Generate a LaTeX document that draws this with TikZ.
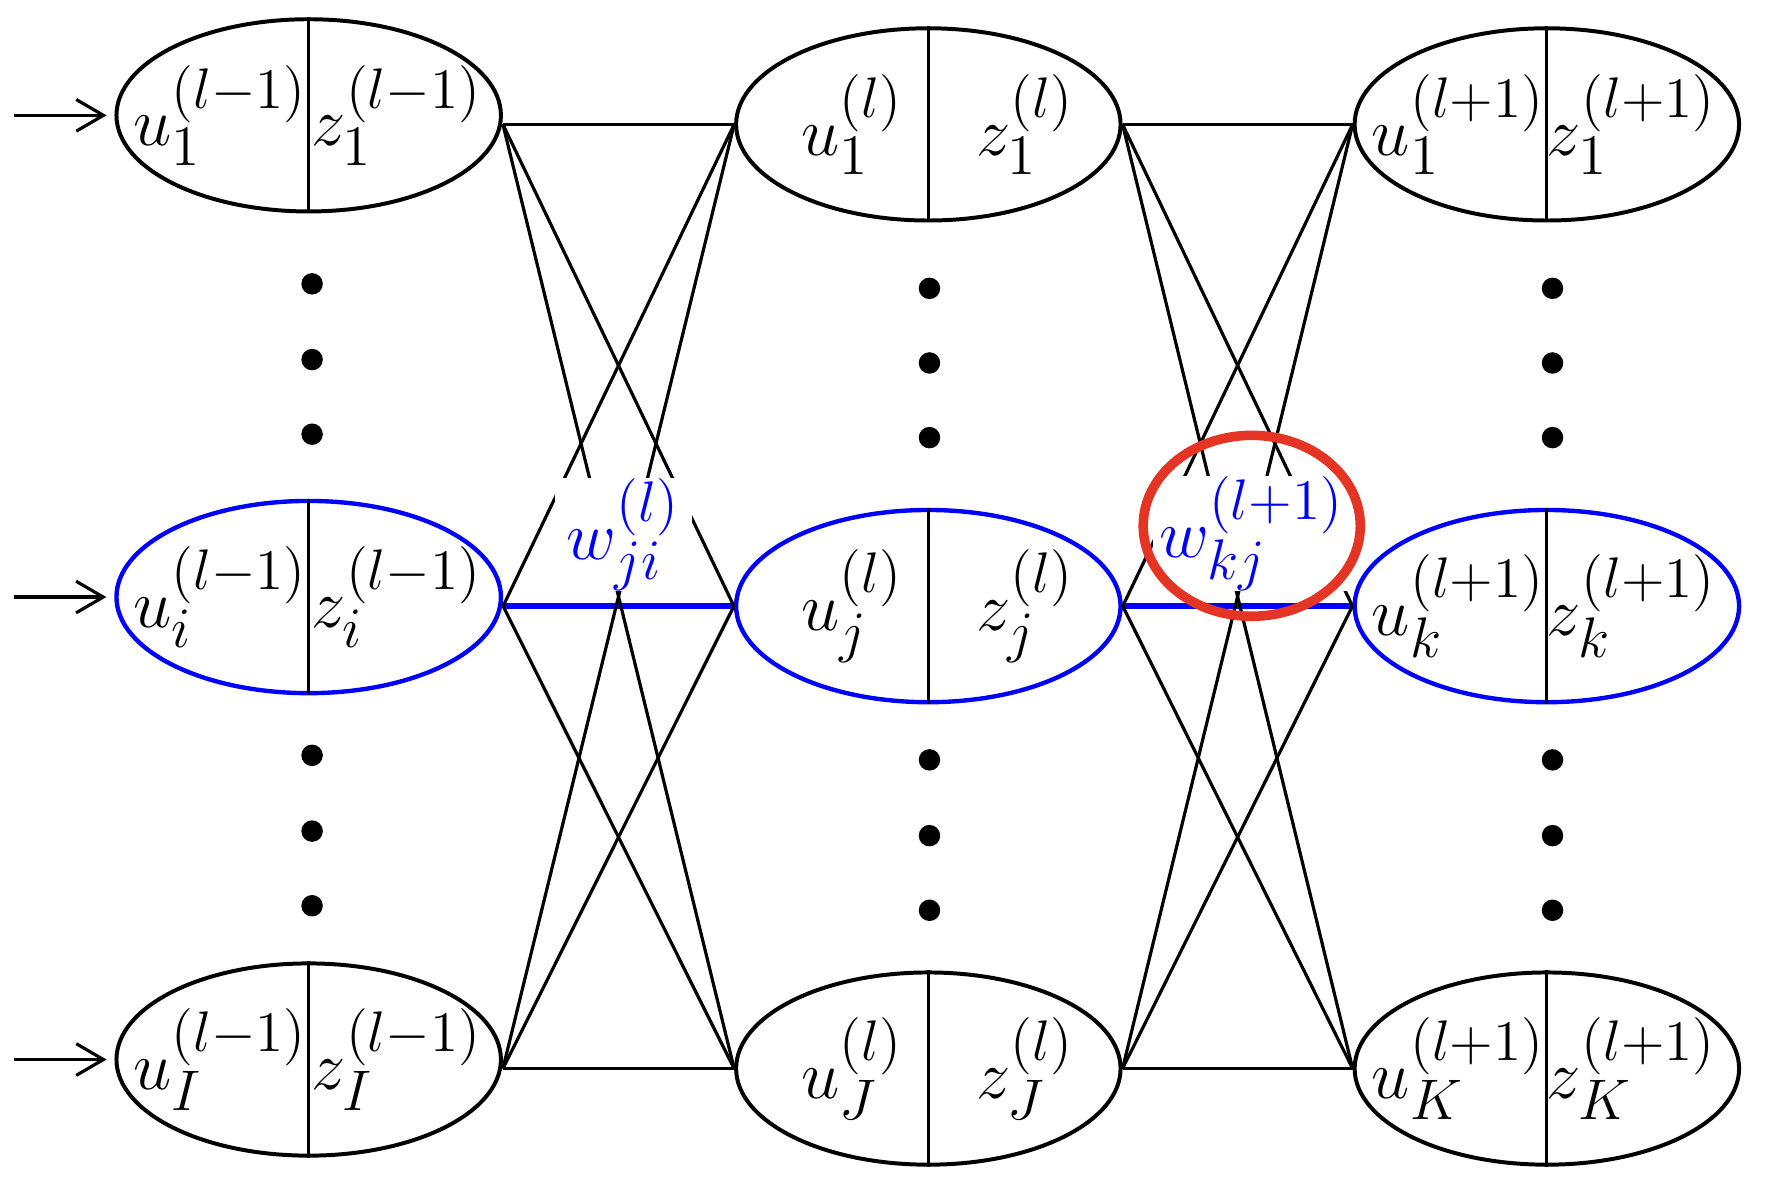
\documentclass[tikz,border=0pt]{standalone}
\usepackage{tikz}
\usetikzlibrary{positioning, arrows.meta, shapes.geometric, calc}
\usepackage{xcolor}
\definecolor{netblue}{RGB}{0,0,255}
\definecolor{markred}{RGB}{228,52,36}

\begin{document}
\begin{tikzpicture}[
			neuron/.style={ellipse, draw=black, line width=1pt,
				minimum width=3.4cm, minimum height=1.7cm, inner sep=0pt},
			active/.style={neuron, draw=netblue, line width=1.1pt},
			half/.style={font=\fontsize{19}{22}\selectfont, inner sep=0pt},
			divider/.style={black, line width=0.8pt},
			link/.style={black, line width=0.8pt},
			hot/.style={netblue, line width=1.4pt},
			weight/.style={font=\fontsize{19}{22}\selectfont, text=netblue, fill=white, inner sep=0pt,
				minimum width=1.21cm, minimum height=1.0cm},
			ring/.style={ellipse, draw=markred, line width=2.4pt, inner sep=0pt,
				minimum width=1.92cm, minimum height=1.60cm},
			input/.style={-{Straight Barb[length=2.4mm, width=2.8mm]}, line width=0.8pt, shorten >=0.07cm}
			]
			\useasboundingbox (0,0) rectangle (15.68,-10.50);
			
			% Layer l-1
			\node[neuron] (i1) at (2.73,-1.02) {};
			\node[active] (ii) at (2.73,-5.28) {};
			\node[neuron] (iI) at (2.73,-9.37) {};
			% Layer l
			\node[neuron] (j1) at (8.21,-1.10) {};
			\node[active] (jj) at (8.21,-5.36) {};
			\node[neuron] (jJ) at (8.21,-9.45) {};
			% Layer l+1
			\node[neuron] (k1) at (13.68,-1.10) {};
			\node[active] (kk) at (13.68,-5.36) {};
			\node[neuron] (kK) at (13.68,-9.45) {};
			
			% Trennlinien u | z
			\draw[divider] (i1.north) -- (i1.south) (ii.north) -- (ii.south) (iI.north) -- (iI.south);
			\draw[divider] (j1.north) -- (j1.south) (jj.north) -- (jj.south) (jJ.north) -- (jJ.south);
			\draw[divider] (k1.north) -- (k1.south) (kk.north) -- (kk.south) (kK.north) -- (kK.south);
			
			% Inhalte
			\node[half] (i1u) at ([xshift=-0.78cm]i1.center) {$u_1^{(l-1)}$};
			\node[half] (i1z) at ([xshift=0.78cm]i1.center) {$z_1^{(l-1)}$};
			\node[half] (iiu) at ([xshift=-0.78cm]ii.center) {$u_i^{(l-1)}$};
			\node[half] (iiz) at ([xshift=0.78cm]ii.center) {$z_i^{(l-1)}$};
			\node[half] (iIu) at ([xshift=-0.78cm]iI.center) {$u_I^{(l-1)}$};
			\node[half] (iIz) at ([xshift=0.78cm]iI.center) {$z_I^{(l-1)}$};
			\node[half] (j1u) at ([xshift=-0.67cm]j1.center) {$u_1^{(l)}$};
			\node[half] (j1z) at ([xshift=0.86cm]j1.center) {$z_1^{(l)}$};
			\node[half] (jju) at ([xshift=-0.67cm]jj.center) {$u_j^{(l)}$};
			\node[half] (jjz) at ([xshift=0.86cm]jj.center) {$z_j^{(l)}$};
			\node[half] (jJu) at ([xshift=-0.67cm]jJ.center) {$u_J^{(l)}$};
			\node[half] (jJz) at ([xshift=0.86cm]jJ.center) {$z_J^{(l)}$};
			\node[half] (k1u) at ([xshift=-0.78cm]k1.center) {$u_1^{(l+1)}$};
			\node[half] (k1z) at ([xshift=0.75cm]k1.center) {$z_1^{(l+1)}$};
			\node[half] (kku) at ([xshift=-0.78cm]kk.center) {$u_k^{(l+1)}$};
			\node[half] (kkz) at ([xshift=0.75cm]kk.center) {$z_k^{(l+1)}$};
			\node[half] (kKu) at ([xshift=-0.78cm]kK.center) {$u_K^{(l+1)}$};
			\node[half] (kKz) at ([xshift=0.75cm]kK.center) {$z_K^{(l+1)}$};
			
			% Punkte
			\fill (2.76,-2.51) circle (0.095) (2.76,-3.18) circle (0.095) (2.76,-3.84) circle (0.095)
			(2.76,-6.68) circle (0.095) (2.76,-7.35) circle (0.095) (2.76,-8.01) circle (0.095);
			\fill (8.22,-2.55) circle (0.095) (8.22,-3.21) circle (0.095) (8.22,-3.87) circle (0.095)
			(8.22,-6.72) circle (0.095) (8.22,-7.39) circle (0.095) (8.22,-8.05) circle (0.095);
			\fill (13.73,-2.55) circle (0.095) (13.73,-3.21) circle (0.095) (13.73,-3.87) circle (0.095)
			(13.73,-6.72) circle (0.095) (13.73,-7.39) circle (0.095) (13.73,-8.05) circle (0.095);
			
			% Eingaenge
			\coordinate (x1) at ([xshift=-0.89cm]i1.west);
			\coordinate (xi) at ([xshift=-0.89cm]ii.west);
			\coordinate (xI) at ([xshift=-0.89cm]iI.west);
			\draw[input] (x1) -- (i1.west);
			\draw[input] (xi) -- (ii.west);
			\draw[input] (xI) -- (iI.west);
			
			% Startpunkte der linken Schicht
			\coordinate (a1) at (i1.east |- j1.west);
			\coordinate (ai) at (ii.east |- jj.west);
			\coordinate (aI) at (iI.east |- jJ.west);
			
			% hervorgehobener Pfad
			\draw[hot] (ai) -- (jj.west);
			\draw[hot] (jj.east) -- (kk.west);
			
			% Gewichte l-1 -> l
			\draw[link] (a1) -- (j1.west);
			\draw[link] (a1) -- (jj.west);
			\draw[link] (a1) -- (jJ.west);
			\draw[link] (ai) -- (j1.west);
			\draw[link] (ai) -- (jJ.west);
			\draw[link] (aI) -- (j1.west);
			\draw[link] (aI) -- (jj.west);
			\draw[link] (aI) -- (jJ.west);
			
			% Gewichte l -> l+1
			\draw[link] (j1.east) -- (k1.west);
			\draw[link] (j1.east) -- (kk.west);
			\draw[link] (j1.east) -- (kK.west);
			\draw[link] (jj.east) -- (k1.west);
			\draw[link] (jj.east) -- (kK.west);
			\draw[link] (jJ.east) -- (k1.west);
			\draw[link] (jJ.east) -- (kk.west);
			\draw[link] (jJ.east) -- (kK.west);
			
			% Gewichtsbeschriftungen
			\node[weight] (wji) at (5.515,-4.725) {$w_{ji}^{(l)}$};
			\node[weight, minimum width=1.75cm] (wkj) at (11.07,-4.72) {$w_{kj}^{(l+1)}$};
			\node[ring] (mark) at (11.07,-4.65) {};
			
		\end{tikzpicture}
\end{document}
